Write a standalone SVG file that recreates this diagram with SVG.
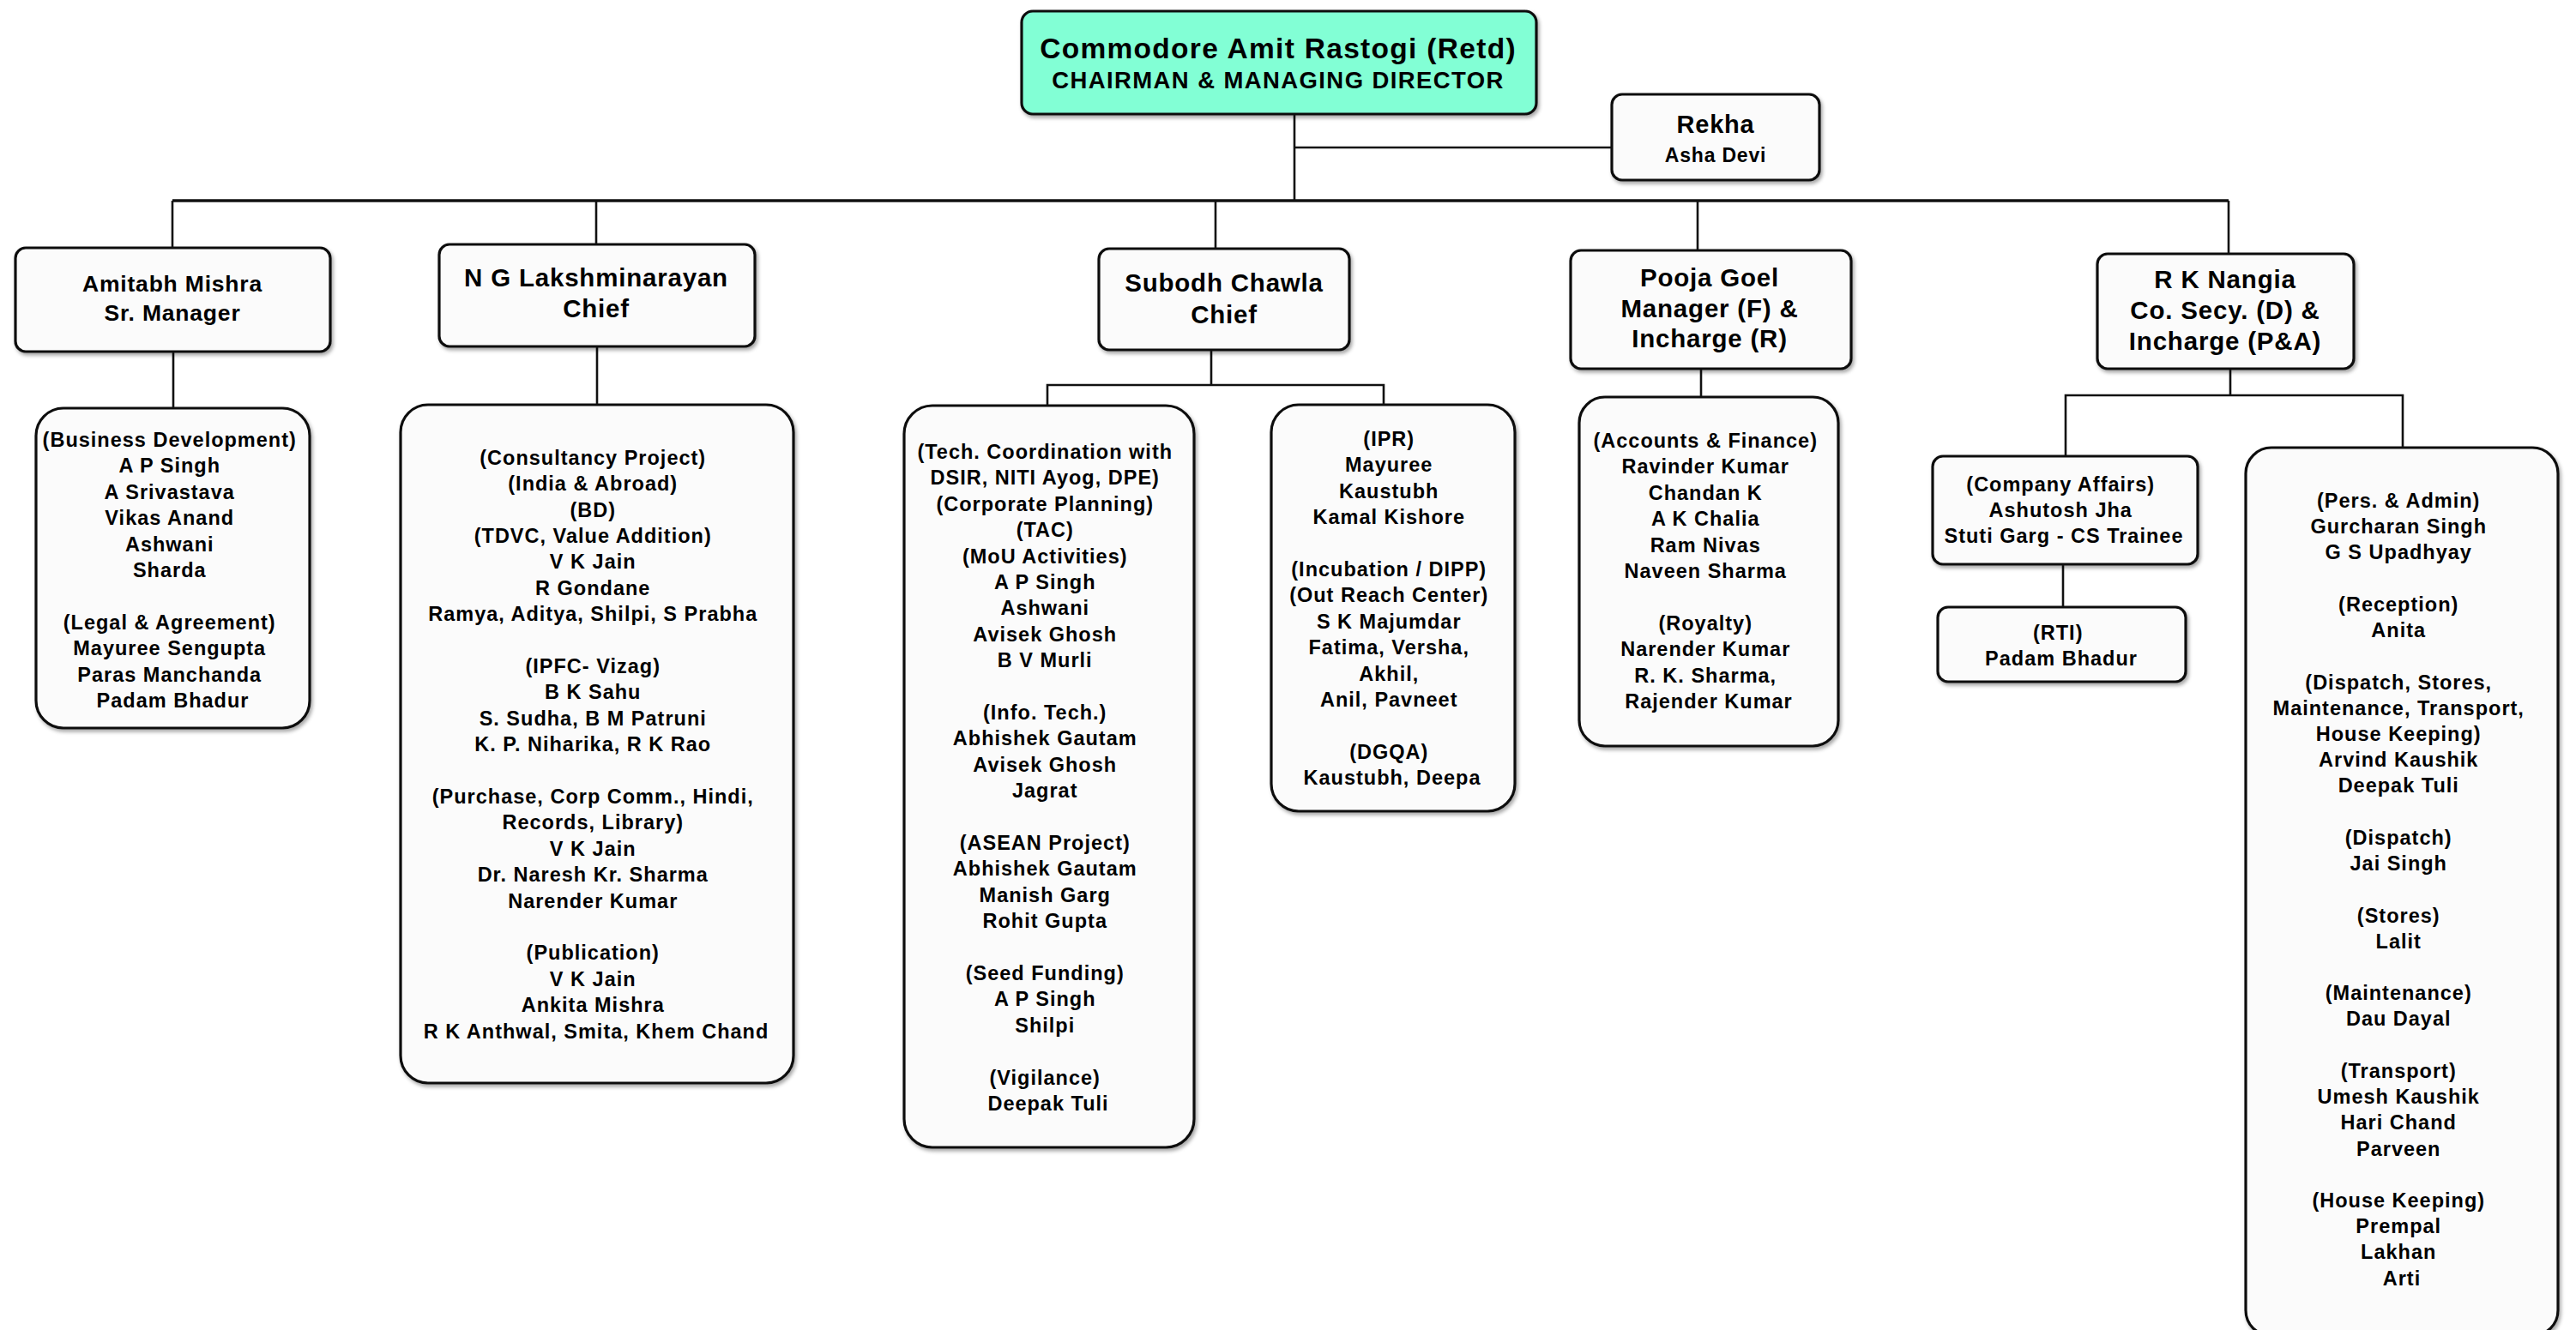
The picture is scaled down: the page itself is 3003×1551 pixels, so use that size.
<svg xmlns="http://www.w3.org/2000/svg" width="3003" height="1551" viewBox="0 0 3003 1551">
<defs>
<filter id="sh" x="-5%" y="-5%" width="115%" height="115%">
<feDropShadow dx="2" dy="3" stdDeviation="2" flood-color="#000" flood-opacity="0.35"/>
</filter>
<style>
.box{fill:#FBFBFB;stroke:#111;stroke-width:3.2;filter:url(#sh)}
.top{fill:#82FFD5;stroke:#111;stroke-width:3.2;filter:url(#sh)}
.ln{fill:none;stroke:#111;stroke-width:2.6}
.main{fill:none;stroke:#111;stroke-width:3.6}
text{font-family:"Liberation Sans",Arial,sans-serif;font-weight:bold;text-anchor:middle;fill:#000}
.s{font-size:23.5px;letter-spacing:1px}
.h{font-size:29.5px;letter-spacing:0.8px}
.ha{font-size:26.5px;letter-spacing:0.8px}
</style>
</defs>
<rect width="3003" height="1551" fill="#fff"/>

<g id="connectors">
<line class="main" x1="201" y1="234" x2="2598" y2="234"/>
<polyline class="ln" points="2598,234 2598,296"/>
<line class="ln" x1="1509" y1="133" x2="1509" y2="234"/>
<line class="ln" x1="1509" y1="172" x2="1879" y2="172"/>
<line class="ln" x1="201" y1="234" x2="201" y2="289"/>
<line class="ln" x1="202" y1="410" x2="202" y2="476"/>
<line class="ln" x1="695" y1="234" x2="695" y2="285"/>
<line class="ln" x1="696" y1="404" x2="696" y2="472"/>
<line class="ln" x1="1417" y1="234" x2="1417" y2="290"/>
<line class="ln" x1="1412" y1="408" x2="1412" y2="449"/>
<polyline class="ln" points="1221,473 1221,449 1613,449 1613,473"/>
<line class="ln" x1="1979" y1="234" x2="1979" y2="292"/>
<line class="ln" x1="1983" y1="430" x2="1983" y2="463"/>
<line class="ln" x1="2600" y1="430" x2="2600" y2="461"/>
<polyline class="ln" points="2408,532 2408,461 2801,461 2801,522"/>
<line class="ln" x1="2405" y1="658" x2="2405" y2="708"/>
</g>

<g id="cmd">
<rect class="top" x="1191" y="13" width="600" height="120" rx="13"/>
<text x="1490" y="68" style="font-size:33.5px;letter-spacing:1.3px">Commodore Amit Rastogi (Retd)</text>
<text x="1490" y="103" style="font-size:27.5px;letter-spacing:1.4px">CHAIRMAN &amp; MANAGING DIRECTOR</text>
</g>

<g id="rekha">
<rect class="box" x="1879" y="110" width="242" height="100" rx="12"/>
<text x="2000" y="155" style="font-size:29px;letter-spacing:0.8px">Rekha</text>
<text x="2000" y="189" style="font-size:23px;letter-spacing:0.8px">Asha Devi</text>
</g>

<g id="amitabh">
<rect class="box" x="18" y="289" width="367" height="121" rx="12"/>
<text class="ha" x="201" y="340">Amitabh Mishra</text>
<text class="ha" x="201" y="374">Sr. Manager</text>
</g>

<g id="amitabh-team">
<rect class="box" x="42" y="476" width="319" height="373" rx="32"/>
<text class="s">
<tspan x="201.5" y="521">(Business Development)</tspan>
<tspan x="201.5" y="551.4">A P Singh</tspan>
<tspan x="201.5" y="581.8">A Srivastava</tspan>
<tspan x="201.5" y="612.2">Vikas Anand</tspan>
<tspan x="201.5" y="642.6">Ashwani</tspan>
<tspan x="201.5" y="673">Sharda</tspan>
<tspan x="201.5" y="733.8">(Legal &amp; Agreement)</tspan>
<tspan x="201.5" y="764.2">Mayuree Sengupta</tspan>
<tspan x="201.5" y="794.6">Paras Manchanda</tspan>
<tspan x="201.5" y="825">Padam Bhadur</tspan>
</text>
</g>

<g id="ng">
<rect class="box" x="512" y="285" width="368" height="119" rx="12"/>
<text class="h" x="695" y="334">N G Lakshminarayan</text>
<text class="h" x="695" y="370">Chief</text>
</g>

<g id="ng-team">
<rect class="box" x="467" y="472" width="458" height="791" rx="32"/>
<text class="s">
<tspan x="695" y="541.7">(Consultancy Project)</tspan>
<tspan x="695" y="572.1">(India &amp; Abroad)</tspan>
<tspan x="695" y="602.5">(BD)</tspan>
<tspan x="695" y="632.9">(TDVC, Value Addition)</tspan>
<tspan x="695" y="663.3">V K Jain</tspan>
<tspan x="695" y="693.7">R Gondane</tspan>
<tspan x="695" y="724.1">Ramya, Aditya, Shilpi, S Prabha</tspan>
<tspan x="695" y="784.9">(IPFC- Vizag)</tspan>
<tspan x="695" y="815.3">B K Sahu</tspan>
<tspan x="695" y="845.7">S. Sudha, B M Patruni</tspan>
<tspan x="695" y="876.1">K. P. Niharika, R K Rao</tspan>
<tspan x="695" y="936.9">(Purchase, Corp Comm., Hindi,</tspan>
<tspan x="695" y="967.3">Records, Library)</tspan>
<tspan x="695" y="997.7">V K Jain</tspan>
<tspan x="695" y="1028.1">Dr. Naresh Kr. Sharma</tspan>
<tspan x="695" y="1058.5">Narender Kumar</tspan>
<tspan x="695" y="1119.3">(Publication)</tspan>
<tspan x="695" y="1149.7">V K Jain</tspan>
<tspan x="695" y="1180.1">Ankita Mishra</tspan>
<tspan x="695" y="1210.5">R K Anthwal, Smita, Khem Chand</tspan>
</text>
</g>

<g id="subodh">
<rect class="box" x="1281" y="290" width="292" height="118" rx="12"/>
<text class="h" x="1427" y="340">Subodh Chawla</text>
<text class="h" x="1427" y="377">Chief</text>
</g>

<g id="tech-team">
<rect class="box" x="1054" y="473" width="338" height="865" rx="33"/>
<text class="s">
<tspan x="1222" y="535">(Tech. Coordination with</tspan>
<tspan x="1222" y="565.4">DSIR, NITI Ayog, DPE)</tspan>
<tspan x="1222" y="595.8">(Corporate Planning)</tspan>
<tspan x="1222" y="626.2">(TAC)</tspan>
<tspan x="1222" y="656.6">(MoU Activities)</tspan>
<tspan x="1222" y="687">A P Singh</tspan>
<tspan x="1222" y="717.4">Ashwani</tspan>
<tspan x="1222" y="747.8">Avisek Ghosh</tspan>
<tspan x="1222" y="778.2">B V Murli</tspan>
<tspan x="1222" y="839">(Info. Tech.)</tspan>
<tspan x="1222" y="869.4">Abhishek Gautam</tspan>
<tspan x="1222" y="899.8">Avisek Ghosh</tspan>
<tspan x="1222" y="930.2">Jagrat</tspan>
<tspan x="1222" y="991">(ASEAN Project)</tspan>
<tspan x="1222" y="1021.4">Abhishek Gautam</tspan>
<tspan x="1222" y="1051.8">Manish Garg</tspan>
<tspan x="1222" y="1082.2">Rohit Gupta</tspan>
<tspan x="1222" y="1143">(Seed Funding)</tspan>
<tspan x="1222" y="1173.4">A P Singh</tspan>
<tspan x="1222" y="1203.8">Shilpi</tspan>
<tspan x="1222" y="1264.6">(Vigilance)</tspan>
<tspan x="1222" y="1295">Deepak Tuli</tspan>
</text>
</g>

<g id="ipr-team">
<rect class="box" x="1482" y="472" width="284" height="474" rx="32"/>
<text class="s">
<tspan x="1623" y="520">(IPR)</tspan>
<tspan x="1623" y="550.4">Mayuree</tspan>
<tspan x="1623" y="580.8">Kaustubh</tspan>
<tspan x="1623" y="611.2">Kamal Kishore</tspan>
<tspan x="1623" y="672">(Incubation / DIPP)</tspan>
<tspan x="1623" y="702.4">(Out Reach Center)</tspan>
<tspan x="1623" y="732.8">S K Majumdar</tspan>
<tspan x="1623" y="763.2">Fatima, Versha,</tspan>
<tspan x="1623" y="793.6">Akhil,</tspan>
<tspan x="1623" y="824">Anil, Pavneet</tspan>
<tspan x="1623" y="884.8">(DGQA)</tspan>
<tspan x="1623" y="915.2">Kaustubh, Deepa</tspan>
</text>
</g>

<g id="pooja">
<rect class="box" x="1831" y="292" width="327" height="138" rx="12"/>
<text class="h" x="1993" y="334">Pooja Goel</text>
<text class="h" x="1993" y="369.5">Manager (F) &amp;</text>
<text class="h" x="1993" y="405">Incharge (R)</text>
</g>

<g id="accounts-team">
<rect class="box" x="1841" y="463" width="302" height="407" rx="30"/>
<text class="s">
<tspan x="1992" y="522">(Accounts &amp; Finance)</tspan>
<tspan x="1992" y="552.4">Ravinder Kumar</tspan>
<tspan x="1992" y="582.8">Chandan K</tspan>
<tspan x="1992" y="613.2">A K Chalia</tspan>
<tspan x="1992" y="643.6">Ram Nivas</tspan>
<tspan x="1992" y="674">Naveen Sharma</tspan>
<tspan x="1992" y="734.8">(Royalty)</tspan>
<tspan x="1992" y="765.2">Narender Kumar</tspan>
<tspan x="1992" y="795.6">R. K. Sharma,</tspan>
<tspan x="1992" y="826">Rajender Kumar</tspan>
</text>
</g>

<g id="nangia">
<rect class="box" x="2445" y="296" width="299" height="134" rx="12"/>
<text class="h" x="2594" y="336">R K Nangia</text>
<text class="h" x="2594" y="372">Co. Secy. (D) &amp;</text>
<text class="h" x="2594" y="408">Incharge (P&amp;A)</text>
</g>

<g id="company-affairs">
<rect class="box" x="2253" y="532" width="309" height="126" rx="12"/>
<text class="s">
<tspan x="2406" y="573">(Company Affairs)</tspan>
<tspan x="2406" y="603">Ashutosh Jha</tspan>
<tspan x="2406" y="633">Stuti Garg - CS Trainee</tspan>
</text>
</g>

<g id="rti">
<rect class="box" x="2259" y="708" width="289" height="87" rx="12"/>
<text class="s">
<tspan x="2403" y="746">(RTI)</tspan>
<tspan x="2403" y="776">Padam Bhadur</tspan>
</text>
</g>

<g id="admin-team">
<rect class="box" x="2618" y="522" width="364" height="1036" rx="30"/>
<text class="s">
<tspan x="2800" y="592">(Pers. &amp; Admin)</tspan>
<tspan x="2800" y="622.2">Gurcharan Singh</tspan>
<tspan x="2800" y="652.4">G S Upadhyay</tspan>
<tspan x="2800" y="712.9">(Reception)</tspan>
<tspan x="2800" y="743.1">Anita</tspan>
<tspan x="2800" y="803.5">(Dispatch, Stores,</tspan>
<tspan x="2800" y="833.8">Maintenance, Transport,</tspan>
<tspan x="2800" y="864">House Keeping)</tspan>
<tspan x="2800" y="894.2">Arvind Kaushik</tspan>
<tspan x="2800" y="924.4">Deepak Tuli</tspan>
<tspan x="2800" y="984.9">(Dispatch)</tspan>
<tspan x="2800" y="1015.1">Jai Singh</tspan>
<tspan x="2800" y="1075.5">(Stores)</tspan>
<tspan x="2800" y="1105.7">Lalit</tspan>
<tspan x="2800" y="1166.2">(Maintenance)</tspan>
<tspan x="2800" y="1196.4">Dau Dayal</tspan>
<tspan x="2800" y="1256.8">(Transport)</tspan>
<tspan x="2800" y="1287.1">Umesh Kaushik</tspan>
<tspan x="2800" y="1317.3">Hari Chand</tspan>
<tspan x="2800" y="1347.5">Parveen</tspan>
<tspan x="2800" y="1408">(House Keeping)</tspan>
<tspan x="2800" y="1438.2">Prempal</tspan>
<tspan x="2800" y="1468.4">Lakhan</tspan>
<tspan x="2800" y="1498.6">Arti</tspan>
</text>
</g>
</svg>
